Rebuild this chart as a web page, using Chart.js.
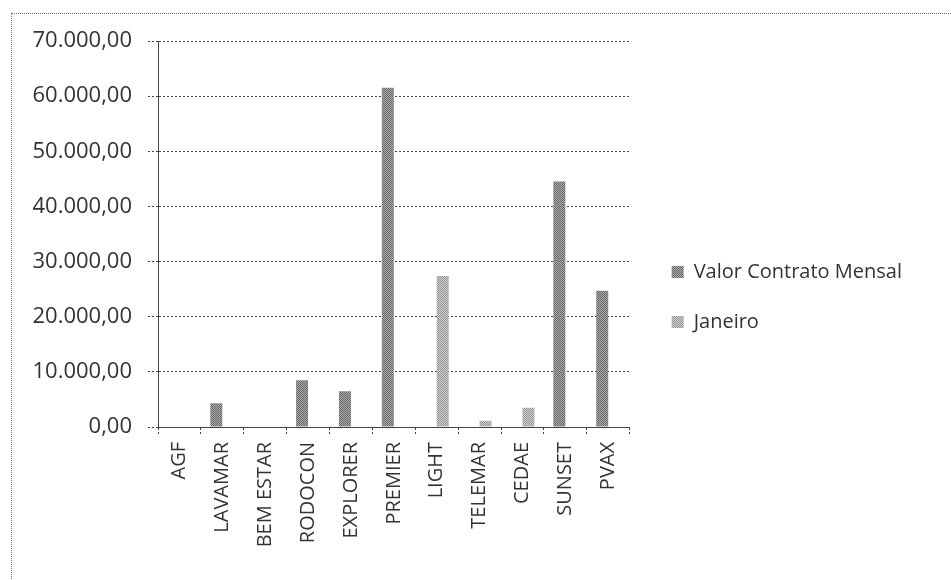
<!DOCTYPE html>
<html>
<head>
<meta charset="utf-8">
<script src="https://cdn.jsdelivr.net/npm/chart.js@4/dist/chart.umd.min.js"></script>
<style>
  html, body { margin: 0; padding: 0; background: #fff; overflow: hidden; }
  #wrap { position: relative; width: 951px; height: 580px; }
  #frame { position: absolute; left: 11px; top: 13px; width: 960px; height: 600px; border: 1px dotted #777; box-sizing: border-box; pointer-events: none; }
  canvas { position: absolute; left: 0; top: 0; }
</style>
</head>
<body>
<div id="wrap">
  <canvas id="c" width="951" height="580"></canvas>
  <div id="frame"></div>
</div>
<script>
const categories = ['AGF', 'LAVAMAR', 'BEM ESTAR', 'RODOCON', 'EXPLORER', 'PREMIER', 'LIGHT', 'TELEMAR', 'CEDAE', 'SUNSET', 'PVAX'];
const valorContratoMensal = [null, 4300, null, 8500, 6500, 61500, null, null, null, 44500, 24700];
const janeiro = [null, null, null, null, null, null, 27400, 1150, 3500, null, null];
const seriesNames = ['Valor Contrato Mensal', 'Janeiro'];
const yMin = 0, yMax = 70000, yStep = 10000;

function fmtBR(v) {
  const neg = v < 0; v = Math.abs(v);
  const parts = v.toFixed(2).split('.');
  const int = parts[0].replace(/\B(?=(\d{3})+(?!\d))/g, '.');
  return (neg ? '-' : '') + int + ',' + parts[1];
}

function makePattern(light, dark) {
  const p = document.createElement('canvas');
  p.width = 4; p.height = 4;
  const g = p.getContext('2d');
  g.fillStyle = light; g.fillRect(0, 0, 4, 4);
  g.fillStyle = dark;
  for (let y = 0; y < 4; y++) for (let x = 0; x < 4; x++) if ((x + y) % 2 === 0) g.fillRect(x, y, 1, 1);
  return document.getElementById('c').getContext('2d').createPattern(p, 'repeat');
}

const fillValor = makePattern('#a8a8a8', '#6a6a6a');
const fillJan = makePattern('#cdcdcd', '#969696');
const textColor = '#333';
const lineColor = '#444';
const font = 'Open Sans';

new Chart(document.getElementById('c'), {
  type: 'bar',
  data: {
    labels: categories,
    datasets: [
      { label: seriesNames[0], data: valorContratoMensal, backgroundColor: fillValor, borderWidth: 0 },
      { label: seriesNames[1], data: janeiro, backgroundColor: fillJan, borderWidth: 0 }
    ]
  },
  options: {
    responsive: false,
    animation: false,
    devicePixelRatio: 1,
    categoryPercentage: 0.56,
    barPercentage: 1.0,
    layout: { padding: { top: 41, bottom: 27, left: 0, right: 39 } },
    plugins: {
      tooltip: { enabled: false },
      title: { display: false },
      legend: {
        position: 'right',
        align: 'center',
        maxWidth: 400,
        labels: {
          boxWidth: 12,
          boxHeight: 12,
          padding: 30,
          color: textColor,
          font: { family: font, size: 20 }
        }
      }
    },
    scales: {
      x: {
        offset: true,
        grid: {
          offset: true,
          drawOnChartArea: false,
          drawTicks: true,
          tickLength: 8,
          tickColor: lineColor,
          tickBorderDash: [2, 2]
        },
        border: { display: true, color: lineColor, dash: [2, 2] },
        ticks: {
          color: textColor,
          font: { family: font, size: 20 },
          minRotation: 90,
          maxRotation: 90,
          autoSkip: false,
          padding: 7
        },
        afterFit: (s) => { s.height = 126; }
      },
      y: {
        min: yMin,
        max: yMax,
        grid: {
          color: lineColor,
          drawTicks: true,
          tickLength: 10,
          tickColor: lineColor,
          tickBorderDash: [2, 2]
        },
        border: { display: true, color: lineColor, dash: [2, 2] },
        ticks: {
          stepSize: yStep,
          color: textColor,
          padding: 16,
          font: { family: font, size: 22 },
          callback: (v) => fmtBR(v)
        },
        afterFit: (s) => { s.width = 158; }
      },
      ySpacer: {
        type: 'linear',
        position: 'right',
        display: true,
        grid: { display: false, drawTicks: false },
        border: { display: false },
        ticks: { display: false },
        afterFit: (s) => { s.width = 12; }
      }
    }
  }
});
</script>
</body>
</html>
